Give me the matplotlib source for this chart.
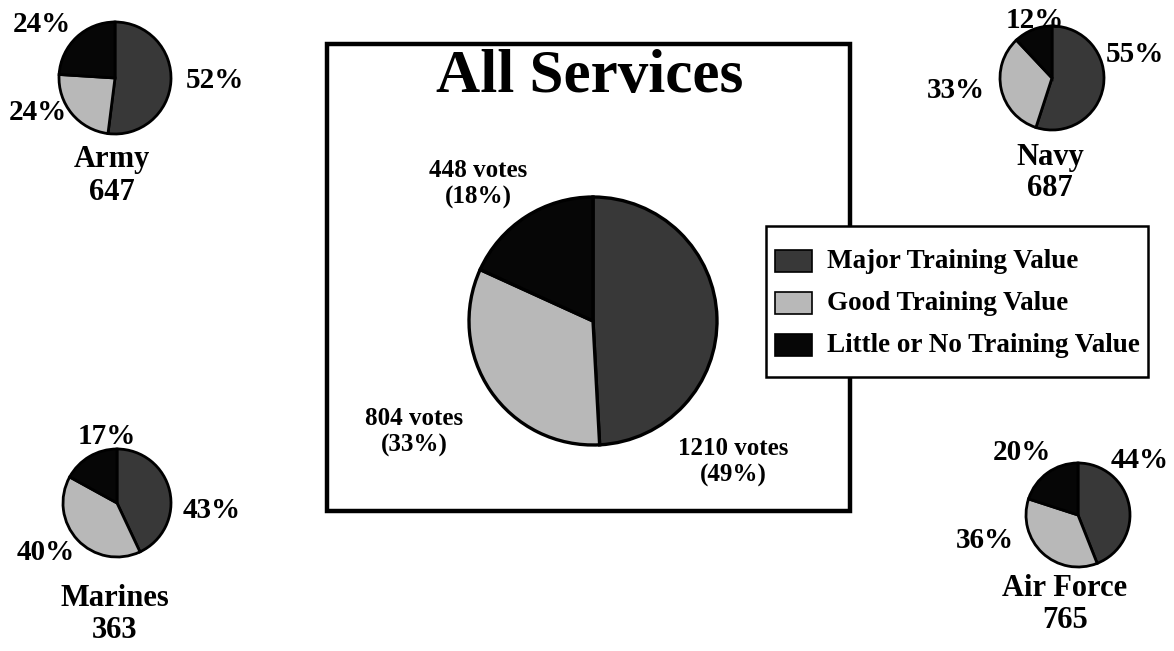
import matplotlib.pyplot as plt
from matplotlib.patches import Rectangle

# data
categories = ["Major Training Value", "Good Training Value", "Little or No Training Value"]
all_votes = [1210, 804, 448]
services = ["Army", "Navy", "Marines", "Air Force"]
service_totals = [647, 687, 363, 765]
army = [52, 24, 24]
navy = [55, 33, 12]
marines = [43, 40, 17]
air_force = [44, 36, 20]

colors = ["#383838", "#b8b8b8", "#060606"]

W, H = 1174, 651
plt.rcParams["font.family"] = ["Liberation Serif", "DejaVu Serif"]
plt.rcParams["font.weight"] = "bold"

fig = plt.figure(figsize=(W / 100, H / 100), dpi=100)
ax = fig.add_axes([0, 0, 1, 1])


def Y(y):
    return H - y


def small_pie(vals, cx, cy, r, name, total, lab_pos, name_x, name_y):
    ax.pie(vals, colors=colors, startangle=90, counterclock=False,
           center=(cx, Y(cy)), radius=r,
           wedgeprops=dict(edgecolor="black", linewidth=2))
    for v, (lx, ly) in zip(vals, lab_pos):
        ax.text(lx, Y(ly), f"{v}%", ha="center", va="center", fontsize=21)
    ax.text(name_x, Y(name_y), name, ha="center", va="center", fontsize=22)
    ax.text(name_x, Y(name_y + 32), str(total), ha="center", va="center", fontsize=22)


# main box and pie
ax.add_patch(Rectangle((327, Y(511)), 523, 467, fill=False, lw=3.2, ec="black"))
ax.text(590, Y(77), "All Services", ha="center", va="center", fontsize=44)
tot = sum(all_votes)
ax.pie(all_votes, colors=colors, startangle=90, counterclock=False,
       center=(593, Y(321)), radius=124,
       wedgeprops=dict(edgecolor="black", linewidth=2.4))
main_lab = [(733, 462), (414, 432), (478, 184)]
for v, (lx, ly) in zip(all_votes, main_lab):
    ax.text(lx, Y(ly), f"{v} votes\n({round(100 * v / tot)}%)", ha="center",
            va="center", fontsize=18, linespacing=1.2)

# legend
ax.add_patch(Rectangle((766, Y(377)), 382, 151, fc="white", ec="black", lw=1.8, zorder=5))
for i, c in enumerate(categories):
    yy = 261 + i * 42
    ax.add_patch(Rectangle((775, Y(yy) - 11), 37, 22, fc=colors[i], ec="black", lw=1.2, zorder=6))
    ax.text(827, Y(yy), c, ha="left", va="center", fontsize=19.5, zorder=6)

small_pie(army, 115, 78, 56, "Army", service_totals[0],
          [(215, 80), (38, 113), (42, 24)], 112, 160)
small_pie(navy, 1052, 78, 52, "Navy", service_totals[1],
          [(1135, 55), (956, 91), (1035, 21)], 1050, 157)
small_pie(marines, 117, 503, 54, "Marines", service_totals[2],
          [(212, 510), (46, 553), (107, 436)], 115, 598)
small_pie(air_force, 1078, 515, 52, "Air Force", service_totals[3],
          [(1140, 461), (985, 540), (1022, 453)], 1065, 588)

ax.set_xlim(0, W)
ax.set_ylim(0, H)
ax.set_aspect("auto")
ax.axis("off")

fig.savefig("out.png", dpi=100, facecolor="white")
